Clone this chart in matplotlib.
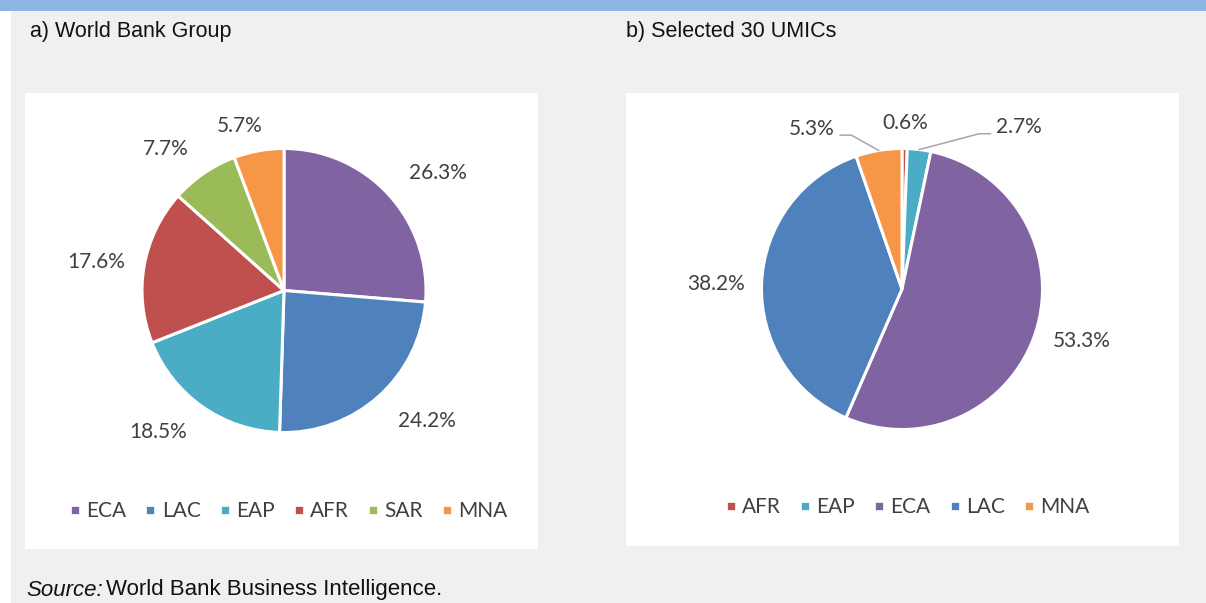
import numpy as np
import matplotlib
matplotlib.use('Agg')
import matplotlib.pyplot as plt
from matplotlib.patches import Rectangle
from matplotlib.lines import Line2D

# ── data ────────────────────────────────────────────────────────────────
wbg_regions = ['ECA', 'LAC', 'EAP', 'AFR', 'SAR', 'MNA']
wbg_shares = [26.3, 24.2, 18.5, 17.6, 7.7, 5.7]

umic_regions = ['AFR', 'EAP', 'ECA', 'LAC', 'MNA']
umic_shares = [0.6, 2.7, 53.3, 38.2, 5.3]

COLORS = {
    'ECA': '#8064A2',
    'LAC': '#4F81BD',
    'EAP': '#4BACC6',
    'AFR': '#C0504D',
    'SAR': '#9BBB59',
    'MNA': '#F79646',
}
BG = '#F0F0F0'
BAR = '#8DB4E2'
LABEL_COLOR = '#404040'
LABEL_FONT = ['Lato', 'DejaVu Sans']
TITLE_FONT = ['Liberation Sans Narrow', 'Liberation Sans', 'DejaVu Sans']
LABEL_SIZE = 15

# label placement (axes units, pie radius = 1), mimicking Excel's best-fit
WBG_LABEL_POS = {'ECA': (1.085, 0.827), 'LAC': (1.007, -0.919),
                 'EAP': (-0.887, -0.996), 'AFR': (-1.324, 0.201),
                 'SAR': (-0.831, 0.996), 'MNA': (-0.310, 1.158)}
UMIC_LABEL_POS = {'AFR': (0.02, 1.18), 'EAP': (0.83, 1.15),
                  'ECA': (1.281, -0.370), 'LAC': (-1.324, 0.036),
                  'MNA': (-0.64, 1.14)}

W, H = 1206, 603


def px_rect(x0, y0, x1, y1):
    """pixel box (top-left origin) -> figure fraction [l, b, w, h]"""
    return [x0 / W, 1 - y1 / H, (x1 - x0) / W, (y1 - y0) / H]


fig = plt.figure(figsize=(W / 100, H / 100), dpi=100)
fig.patch.set_facecolor('white')

# background frame and top bar
fig.add_artist(Rectangle((11 / W, 0), 1 - 11 / W, 1, transform=fig.transFigure,
                         facecolor=BG, edgecolor='none', zorder=0))
fig.add_artist(Rectangle((0, 1 - 11 / H), 1, 11 / H, transform=fig.transFigure,
                         facecolor=BAR, edgecolor='none', zorder=0))

# white panels
for box in [(25, 93, 538, 549), (626, 93, 1179, 546)]:
    l, b, w, h = px_rect(*box)
    fig.add_artist(Rectangle((l, b), w, h, transform=fig.transFigure,
                             facecolor='white', edgecolor='none', zorder=0))

fig.text(30 / W, 1 - 31 / H, 'a) World Bank Group', family=TITLE_FONT,
         fontsize=15.5, color='#111111', va='center', ha='left')
fig.text(626 / W, 1 - 31 / H, 'b) Selected 30 UMICs', family=TITLE_FONT,
         fontsize=15.5, color='#111111', va='center', ha='left')

fig.text(26 / W, 1 - 590 / H, 'Source:', family=TITLE_FONT, style='italic',
         fontsize=16, color='#111111', va='center', ha='left')
fig.text(106 / W, 1 - 590 / H, 'World Bank Business Intelligence.', family=TITLE_FONT,
         fontsize=16, color='#111111', va='center', ha='left')


def draw_pie(cx, cy, r, regions, shares, label_pos):
    ax = fig.add_axes(px_rect(cx - r, cy - r, cx + r, cy + r))
    wedges, _ = ax.pie(shares, colors=[COLORS[k] for k in regions],
                       startangle=90, counterclock=False, radius=1.0,
                       wedgeprops=dict(edgecolor='white', linewidth=2.2))
    ax.set_xlim(-1, 1)
    ax.set_ylim(-1, 1)
    ax.set_aspect('equal')
    ax.axis('off')
    for k, v in zip(regions, shares):
        tx, ty = label_pos[k]
        ax.text(tx, ty, f'{v:.1f}%', ha='center', va='center',
                family=LABEL_FONT, fontsize=LABEL_SIZE, color=LABEL_COLOR,
                clip_on=False)
    return ax, wedges


def mid_angle(w):
    return np.deg2rad((w.theta1 + w.theta2) / 2)


# ── a) World Bank Group ────────────────────────────────────────────────
ax1, wedges1 = draw_pie(284, 290.5, 142, wbg_regions, wbg_shares, WBG_LABEL_POS)

# ── b) Selected 30 UMICs ───────────────────────────────────────────────
ax2, wedges2 = draw_pie(902, 289, 140.5, umic_regions, umic_shares, UMIC_LABEL_POS)

# leader lines for EAP and MNA
for k, side in [('EAP', -1), ('MNA', 1)]:
    w = wedges2[umic_regions.index(k)]
    a = mid_angle(w)
    ex, ey = np.cos(a), np.sin(a)
    tx, ty = UMIC_LABEL_POS[k]
    start = tx + side * 0.2
    elbow = start + side * 0.08
    ax2.plot([start, elbow, ex], [ty - 0.045, ty - 0.045, ey],
             color='#A6A6A6', lw=1.1, clip_on=False)

# ── legends ────────────────────────────────────────────────────────────
def legend_handles(regions):
    return [Line2D([0], [0], marker='s', linestyle='none', markersize=6,
                   markerfacecolor=COLORS[k], markeredgecolor='white',
                   markeredgewidth=0.5, label=k) for k in regions]


leg_kw = dict(frameon=False, handlelength=0.6, handletextpad=0.25,
              columnspacing=0.85, loc='center',
              prop=dict(family=LABEL_FONT, size=15), labelcolor=LABEL_COLOR)
fig.legend(handles=legend_handles(wbg_regions), ncol=len(wbg_regions),
           bbox_to_anchor=(288 / W, 1 - 511 / H), **leg_kw)
fig.legend(handles=legend_handles(umic_regions), ncol=len(umic_regions),
           bbox_to_anchor=(907 / W, 1 - 507 / H), **leg_kw)

fig.savefig('out.png', dpi=100, facecolor='white')
